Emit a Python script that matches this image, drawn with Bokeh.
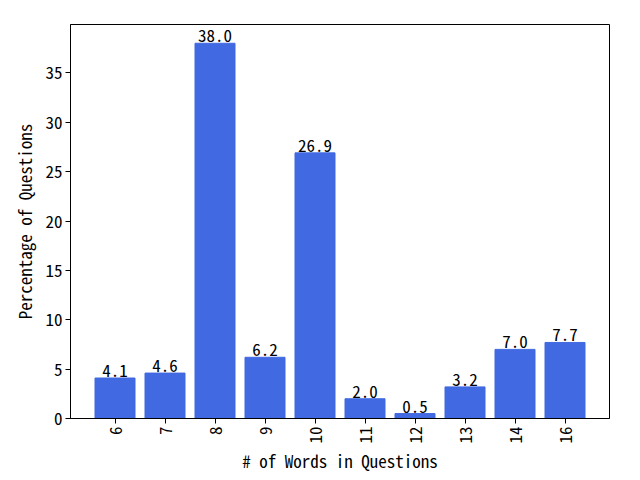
import math
from bokeh.plotting import figure
from bokeh.models import ColumnDataSource, FixedTicker, Range1d
from bokeh.core.properties import value
from bokeh.embed import file_html
from bokeh.resources import INLINE

categories = ["6", "7", "8", "9", "10", "11", "12", "13", "14", "16"]
percentages = [4.1, 4.6, 38.0, 6.2, 26.9, 2.0, 0.5, 3.2, 7.0, 7.7]
y_ticks = [0, 5, 10, 15, 20, 25, 30, 35]

FONT = "'Noto Sans Mono CJK SC', 'DejaVu Sans Mono', monospace"
FS = "17px"

xs = list(range(len(categories)))
src = ColumnDataSource(dict(
    x=xs,
    top=percentages,
    label=[f"{v:.1f}" for v in percentages],
))

p = figure(width=627, height=476, output_backend="svg", toolbar_location=None,
           x_range=Range1d(-0.89, len(categories) - 1 + 0.89),
           y_range=Range1d(0, max(percentages) * 1.05),
           min_border_left=70, min_border_right=18, min_border_top=24, min_border_bottom=50)

p.vbar(x="x", top="top", width=0.8, bottom=0, source=src, color="#4169E1")
p.text(x="x", y="top", text="label", source=src, text_align="center",
       text_baseline="bottom", text_font=value(FONT), text_font_size=FS,
       text_color="black", y_offset=-1)

p.xgrid.visible = False
p.ygrid.visible = False
p.outline_line_color = "black"
p.outline_line_width = 1
p.outline_line_alpha = 1

p.xaxis.ticker = FixedTicker(ticks=xs)
p.xaxis.major_label_overrides = {i: c for i, c in enumerate(categories)}
p.xaxis.major_label_orientation = math.pi / 2
p.yaxis.ticker = FixedTicker(ticks=y_ticks)

for ax in (p.xaxis[0], p.yaxis[0]):
    ax.minor_tick_line_color = None
    ax.major_tick_out = 5
    ax.major_tick_in = 0
    ax.major_tick_line_color = "black"
    ax.axis_line_color = "black"
    ax.major_label_text_font = FONT
    ax.major_label_text_font_size = FS
    ax.major_label_text_color = "black"
    ax.axis_label_text_font = FONT
    ax.axis_label_text_font_size = FS
    ax.axis_label_text_font_style = "normal"
    ax.axis_label_text_color = "black"
    ax.major_label_standoff = 3
    ax.axis_label_standoff = 2

p.yaxis[0].axis_label_standoff = 6
p.xaxis.axis_label = "# of Words in Questions"
p.yaxis.axis_label = "Percentage of Questions"

open("out.html", "w").write(file_html(p, INLINE))
